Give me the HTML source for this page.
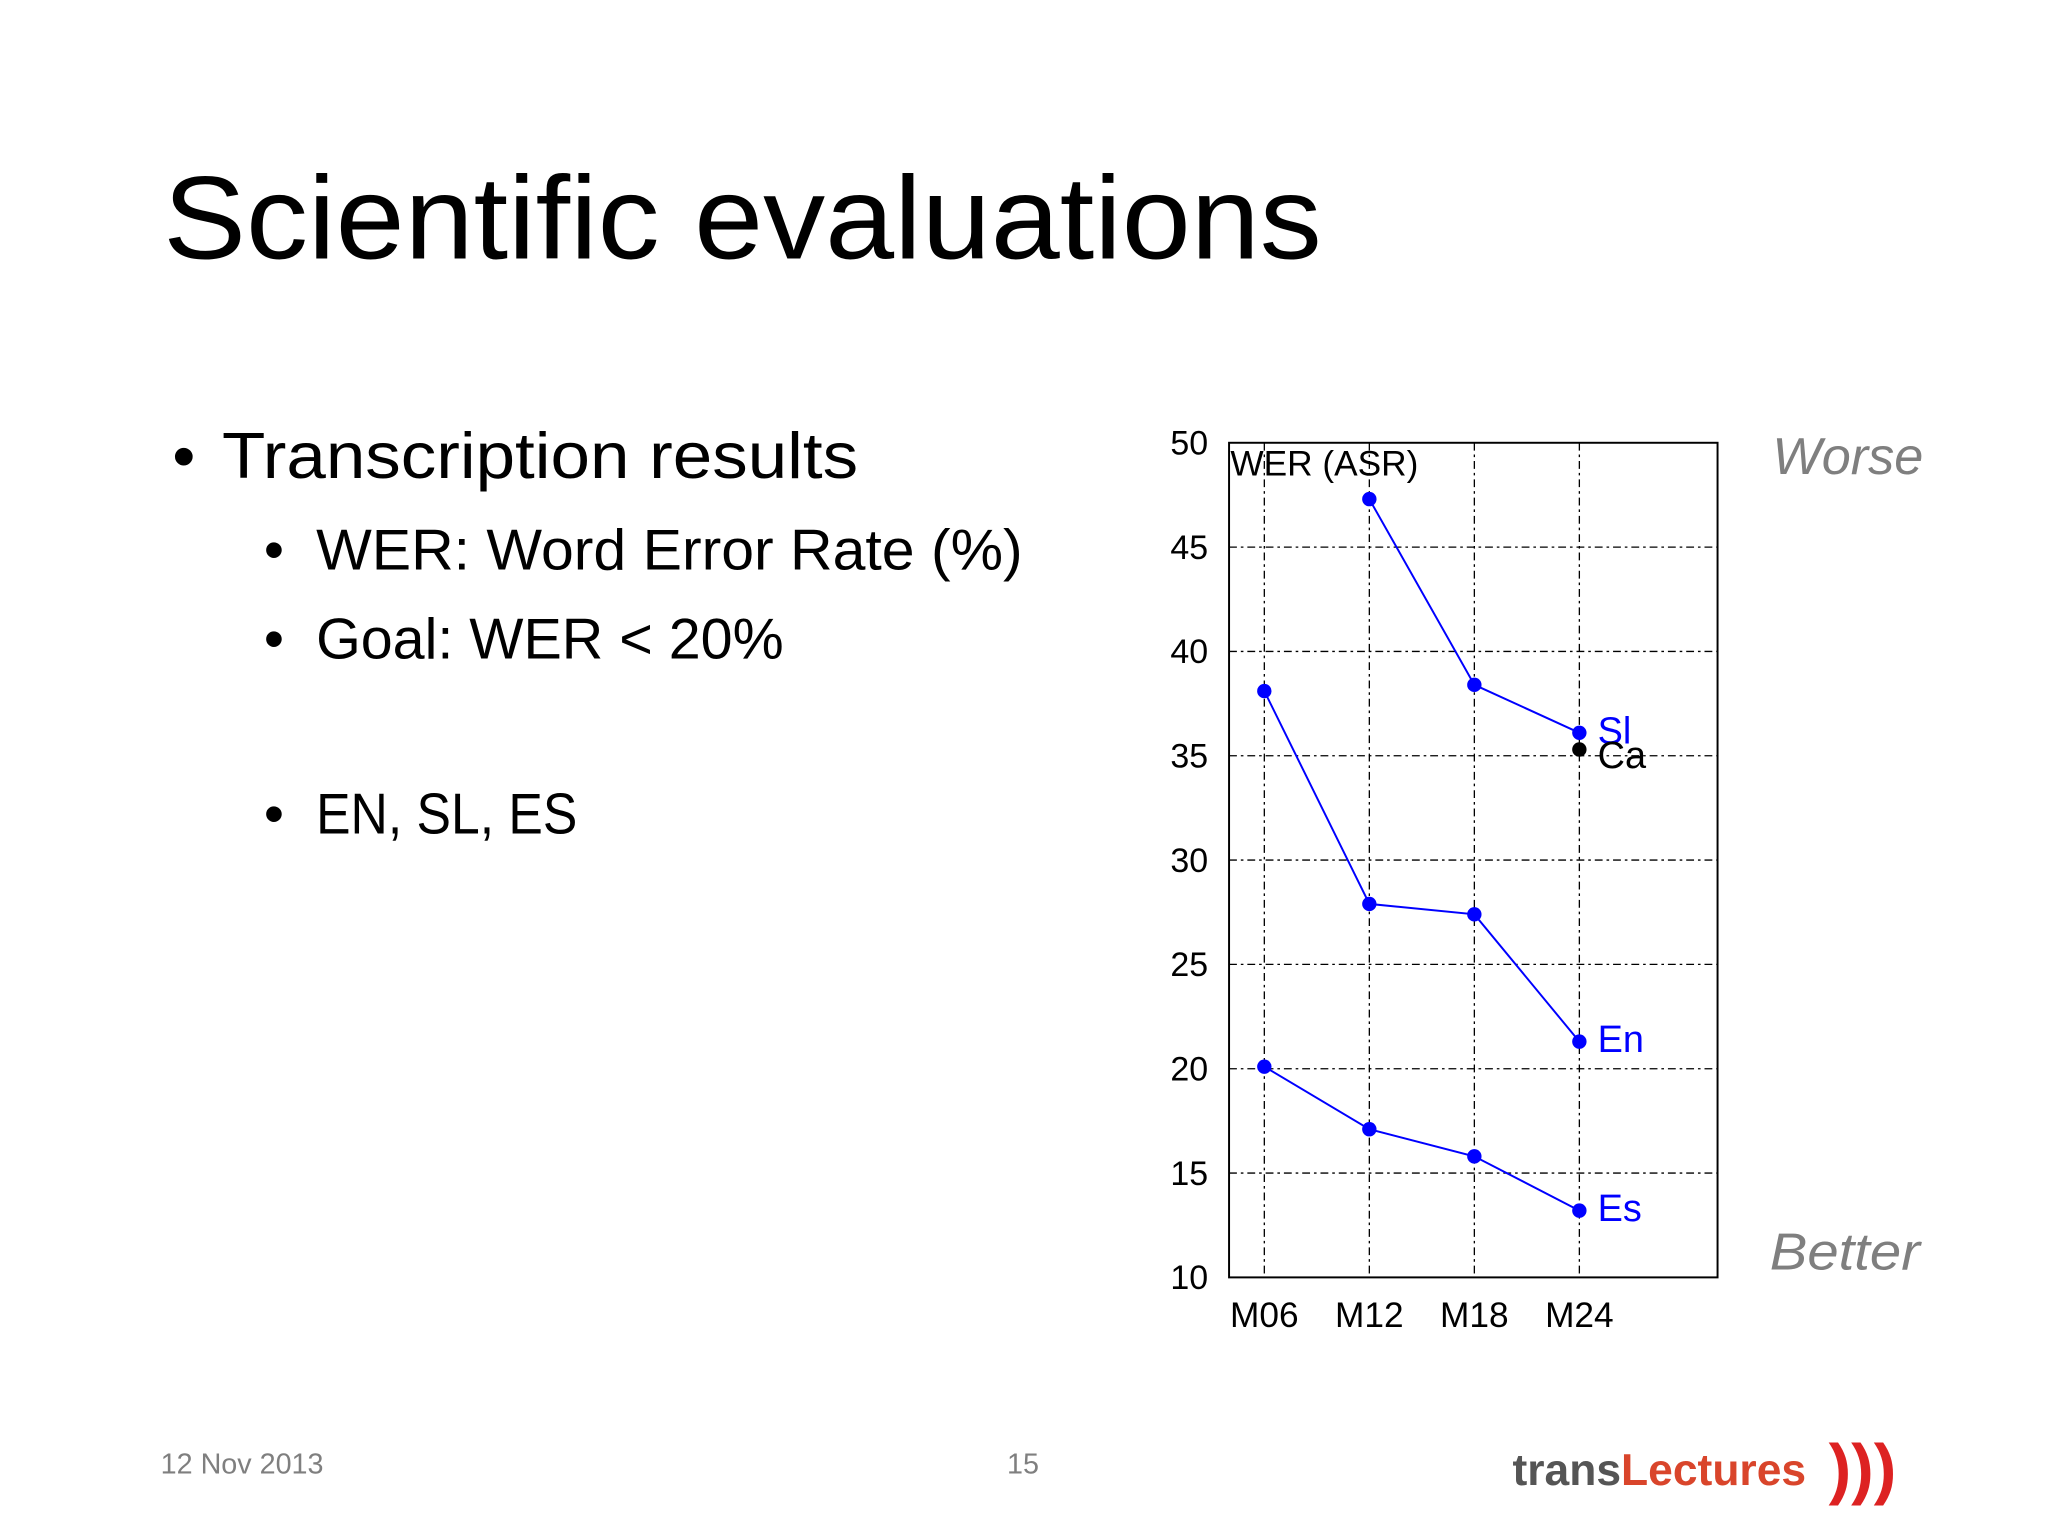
<!DOCTYPE html>
<html><head><meta charset="utf-8"><style>
html,body{margin:0;padding:0;background:#fff;}
svg{display:block;}
</style></head><body>
<svg width="2048" height="1536" viewBox="0 0 1568 1176" xmlns="http://www.w3.org/2000/svg" font-family="Liberation Sans, sans-serif">
<rect width="1568" height="1176" fill="#fff"/>
<text x="125" y="198" font-size="90" fill="#000" textLength="887" lengthAdjust="spacingAndGlyphs">Scientific evaluations</text>
<g fill="#000">
<text x="132" y="366" font-size="50">•</text>
<text x="170" y="366" font-size="50" textLength="487" lengthAdjust="spacingAndGlyphs">Transcription results</text>
<text x="202" y="436" font-size="44">•</text>
<text x="242" y="436" font-size="44" textLength="541" lengthAdjust="spacingAndGlyphs">WER: Word Error Rate (%)</text>
<text x="202" y="504" font-size="44">•</text>
<text x="242" y="504" font-size="44" textLength="358" lengthAdjust="spacingAndGlyphs">Goal: WER &lt; 20%</text>
<text x="202" y="638" font-size="44">•</text>
<text x="242" y="638" font-size="44" textLength="200" lengthAdjust="spacingAndGlyphs">EN, SL, ES</text>
</g>
<text x="1357" y="363" font-size="40" font-style="italic" fill="#7f7f7f">Worse</text>
<text x="1355" y="972" font-size="40" font-style="italic" fill="#7f7f7f" textLength="115" lengthAdjust="spacingAndGlyphs">Better</text>
<g id="chart"></g>
<text x="123" y="1128" font-size="22" fill="#7f7f7f">12 Nov 2013</text>
<text x="771" y="1128" font-size="22" fill="#7f7f7f">15</text>
<g>
<text x="1158" y="1137" font-size="34" font-weight="bold"><tspan fill="#555">trans</tspan><tspan fill="#d9452b">Lectures</tspan></text>
<text x="1400" y="1142" font-size="52" font-weight="bold" fill="#d22">)))</text>
</g>
</svg>
<script>
const categories=["M06","M12","M18","M24"];
const yTicks=[10,15,20,25,30,35,40,45,50];
const slValues=[null,47.3,38.4,36.1];
const enValues=[38.1,27.9,27.4,21.3];
const esValues=[20.1,17.1,15.8,13.2];
const caValues=[null,null,null,35.3];
const NS="http://www.w3.org/2000/svg";
const g=document.getElementById('chart');
const L=941,R=1315,T=339,B=978,ymin=10,ymax=50;
const xs=i=>968+i*80.4;
const ys=v=>B-(v-ymin)/(ymax-ymin)*(B-T);
function mk(t,a,p){const e=document.createElementNS(NS,t);for(const k in a)e.setAttribute(k,a[k]);(p||g).appendChild(e);return e;}
yTicks.forEach(v=>{
  if(v>ymin&&v<ymax){const l=mk('line',{x1:L,x2:R,y1:ys(v),y2:ys(v),stroke:'#000','stroke-width':1,'stroke-dasharray':'6 3 2 3'});
  
  }
  const t=mk('text',{x:925,y:ys(v)+9,'font-size':26,'text-anchor':'end',fill:'#000'});t.textContent=v;
  
  
});
categories.forEach((c,i)=>{
  const l=mk('line',{x1:xs(i),x2:xs(i),y1:T,y2:B,stroke:'#000','stroke-width':1,'stroke-dasharray':'6 3 2 3'});
  
  
  const t=mk('text',{x:xs(i),y:1016,'font-size':27,'text-anchor':'middle',fill:'#000'});t.textContent=c;
  
  
});
const frame=mk('rect',{x:L,y:T,width:R-L,height:B-T,fill:'none',stroke:'#000','stroke-width':1.5});


const ct=mk('text',{x:942,y:364,'font-size':27,fill:'#000'});ct.textContent='WER (ASR)';


function series(vals,color,label,name){
  const pts=[];vals.forEach((v,i)=>{if(v!==null)pts.push([xs(i),ys(v)]);});
  if(pts.length>1){const pl=mk('polyline',{points:pts.map(p=>p.join(',')).join(' '),fill:'none',stroke:color,'stroke-width':1.5});
  
  }
  pts.forEach(p=>{const c=mk('circle',{cx:p[0],cy:p[1],r:5.5,fill:color});
  
  });
  const last=pts[pts.length-1];
  const t=mk('text',{x:last[0]+14,y:last[1]+(name==='ca'?14:8),'font-size':29,fill:color});t.textContent=label;
  
  
}
series(slValues,'#0000ff','Sl','sl');
series(caValues,'#000','Ca','ca');
series(enValues,'#0000ff','En','en');
series(esValues,'#0000ff','Es','es');
</script>
</body></html>
